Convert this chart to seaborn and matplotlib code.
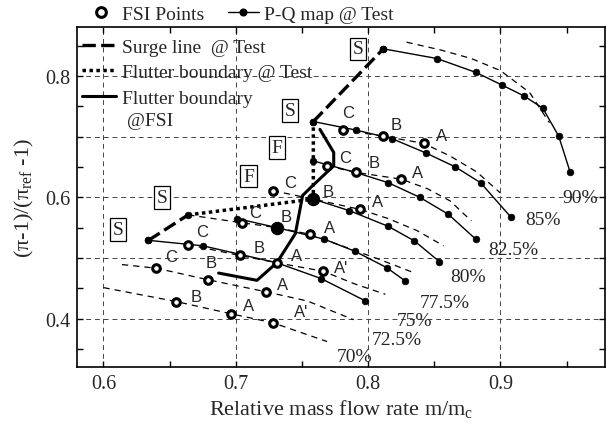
import matplotlib
matplotlib.use('Agg')
import matplotlib.pyplot as plt
import seaborn as sns
from matplotlib.lines import Line2D
from matplotlib.ticker import MultipleLocator, FuncFormatter

# ---------------- data ----------------
# P-Q map @ Test: solid speed lines with filled dots
pq90_m = [0.8115, 0.852, 0.8815, 0.9014, 0.918, 0.932, 0.944, 0.9526]
pq90_p = [0.845, 0.829, 0.806, 0.785, 0.767, 0.747, 0.701, 0.642]
pq85_m = [0.7586, 0.7906, 0.8178, 0.8438, 0.866, 0.885, 0.908]
pq85_p = [0.725, 0.711, 0.697, 0.673, 0.650, 0.624, 0.567]
pq825_m = [0.7586, 0.7906, 0.8153, 0.839, 0.8606, 0.8813]
pq825_p = [0.660, 0.641, 0.624, 0.600, 0.572, 0.531]
pq80_m = [0.7586, 0.7858, 0.8153, 0.835, 0.8538]
pq80_p = [0.597, 0.578, 0.552, 0.528, 0.494]
pq775_m = [0.7007, 0.731, 0.7667, 0.790, 0.814, 0.828]
pq775_p = [0.565, 0.550, 0.531, 0.511, 0.484, 0.462]
pq75_m = [0.634, 0.675, 0.731, 0.7644, 0.798]
pq75_p = [0.529, 0.520, 0.492, 0.466, 0.429]

# FSI speed lines (thin dashed)
fsi90_m = [0.829, 0.855, 0.878, 0.900, 0.922, 0.937]
fsi90_p = [0.856, 0.843, 0.829, 0.809, 0.773, 0.723]
fsi85_m = [0.781, 0.811, 0.842, 0.862, 0.882, 0.900]
fsi85_p = [0.711, 0.701, 0.689, 0.668, 0.642, 0.607]
fsi825_m = [0.769, 0.791, 0.825, 0.845, 0.862, 0.878]
fsi825_p = [0.652, 0.641, 0.630, 0.614, 0.594, 0.561]
fsi80_m = [0.728, 0.7586, 0.794, 0.815, 0.837, 0.857]
fsi80_p = [0.611, 0.597, 0.580, 0.565, 0.545, 0.520]
fsi775_m = [0.664, 0.7045, 0.731, 0.756, 0.780, 0.808, 0.834]
fsi775_p = [0.571, 0.558, 0.550, 0.539, 0.520, 0.498, 0.476]
fsi75_m = [0.6636, 0.703, 0.731, 0.766, 0.790, 0.813]
fsi75_p = [0.522, 0.504, 0.492, 0.478, 0.457, 0.440]
fsi725_m = [0.614, 0.640, 0.679, 0.723, 0.754, 0.789]
fsi725_p = [0.489, 0.483, 0.464, 0.444, 0.429, 0.398]
fsi70_m = [0.600, 0.655, 0.696, 0.728, 0.769]
fsi70_p = [0.451, 0.428, 0.408, 0.393, 0.362]

# Surge line @ Test (two segments) and flutter boundaries
surge1_m = [0.634, 0.664]
surge1_p = [0.529, 0.571]
surge2_m = [0.7586, 0.8115]
surge2_p = [0.725, 0.845]
flut_test_m = [0.664, 0.7586, 0.7586]
flut_test_p = [0.571, 0.597, 0.725]
flut_fsi_m = [0.7636, 0.774, 0.774, 0.757, 0.7505, 0.745, 0.731, 0.716, 0.687]
flut_fsi_p = [0.712, 0.674, 0.652, 0.617, 0.603, 0.540, 0.492, 0.463, 0.475]

# FSI points (open circles)
fsipt_m = [0.781, 0.811, 0.842,
           0.769, 0.791, 0.825,
           0.728, 0.794,
           0.7045, 0.756,
           0.6636, 0.703, 0.731, 0.766,
           0.640, 0.679, 0.723,
           0.655, 0.696, 0.728]
fsipt_p = [0.711, 0.701, 0.689,
           0.652, 0.641, 0.630,
           0.611, 0.580,
           0.558, 0.539,
           0.522, 0.504, 0.492, 0.478,
           0.483, 0.464, 0.444,
           0.428, 0.408, 0.393]
fsipt_lab = ['C', 'B', 'A',
             'C', 'B', 'A',
             'C', 'A',
             'C', 'A',
             'C', 'B', 'A', "A'",
             'C', 'B', 'A',
             'B', 'A', "A'"]
# label offsets in pixels (style)
fsipt_off = [(5, 18), (14, 12), (18, 8),
             (18, 8), (18, 10), (16, 7),
             (17, 8), (17, 8),
             (13, 10), (20, 7),
             (14, 13), (19, 8), (20, 7), (18, 4),
             (15, 12), (3, 17), (16, 7),
             (20, 5), (18, 8), (28, 11)]
# FSI points drawn as large filled circles
fsibig_m = [0.7586, 0.731]
fsibig_p = [0.597, 0.550]
fsibig_lab = ['B', 'B']
fsibig_off = [(15, 8), (9, 11)]

# speed labels
speed_lab = ['90%', '85%', '82.5%', '80%', '77.5%', '75%', '72.5%', '70%']
speed_lab_m = [0.947, 0.919, 0.8905, 0.862, 0.839, 0.8216, 0.8027, 0.776]
speed_lab_p = [0.600, 0.564, 0.514, 0.470, 0.426, 0.396, 0.365, 0.338]

# boxed markers S / F
box_lab = ['S', 'S', 'F', 'F', 'S', 'S']
box_m = [0.7926, 0.741, 0.731, 0.7095, 0.644, 0.611]
box_p = [0.845, 0.743, 0.682, 0.635, 0.600, 0.547]

# ---------------- style ----------------
sns.set_style('ticks')
plt.rcParams['font.family'] = ['Liberation Serif', 'DejaVu Serif']
plt.rcParams['mathtext.fontset'] = 'custom'
plt.rcParams['mathtext.rm'] = 'Liberation Serif'
plt.rcParams['mathtext.it'] = 'Liberation Serif:italic'

fig = plt.figure(figsize=(6.06, 4.35), dpi=100)
ax = fig.add_axes([77/606, 1-368/435, (605-77)/606, (368-28)/435])

K = 'black'
dash_thin = (0, (5, 4))

# FSI dashed speed lines
for m, p in [(fsi90_m, fsi90_p), (fsi85_m, fsi85_p), (fsi825_m, fsi825_p),
             (fsi80_m, fsi80_p), (fsi775_m, fsi775_p), (fsi75_m, fsi75_p),
             (fsi725_m, fsi725_p), (fsi70_m, fsi70_p)]:
    sns.lineplot(x=m, y=p, ax=ax, sort=False, estimator=None, color=K,
                 lw=0.9, linestyle=dash_thin, zorder=3)

# Test speed lines
for m, p in [(pq90_m, pq90_p), (pq85_m, pq85_p), (pq825_m, pq825_p),
             (pq80_m, pq80_p), (pq775_m, pq775_p), (pq75_m, pq75_p)]:
    sns.lineplot(x=m, y=p, ax=ax, sort=False, estimator=None, color=K,
                 lw=1.0, marker='o', markersize=4.8, mfc=K, mec=K, mew=0.5,
                 zorder=4)

# Surge line
for m, p in [(surge1_m, surge1_p), (surge2_m, surge2_p)]:
    sns.lineplot(x=m, y=p, ax=ax, sort=False, estimator=None, color=K,
                 lw=2.4, linestyle=(0, (4, 1.6)), marker='o', markersize=4.8,
                 mfc=K, mec=K, mew=0.5, zorder=5)
# Flutter boundary @ Test
sns.lineplot(x=flut_test_m, y=flut_test_p, ax=ax, sort=False, estimator=None,
             color=K, lw=2.5, linestyle=(0, (1, 1)), zorder=5)
# Flutter boundary @ FSI
sns.lineplot(x=flut_fsi_m, y=flut_fsi_p, ax=ax, sort=False, estimator=None,
             color=K, lw=2.2, zorder=5)

# FSI points
sns.scatterplot(x=fsipt_m, y=fsipt_p, ax=ax, s=30, marker='o', color='white',
                edgecolor=K, linewidth=2.2, zorder=6)
sns.scatterplot(x=fsibig_m, y=fsibig_p, ax=ax, s=75, marker='o', color=K,
                edgecolor=K, linewidth=1.0, zorder=6)

for m, p, lab, off in zip(fsipt_m + fsibig_m, fsipt_p + fsibig_p,
                          fsipt_lab + fsibig_lab, fsipt_off + fsibig_off):
    ax.annotate(lab, (m, p), xytext=off, textcoords='offset pixels',
                ha='center', va='center', fontsize=12,
                family=['Liberation Sans', 'DejaVu Sans'], zorder=7)

for lab, m, p in zip(speed_lab, speed_lab_m, speed_lab_p):
    ax.text(m, p, lab, ha='left', va='center', fontsize=14, zorder=7)

for lab, m, p in zip(box_lab, box_m, box_p):
    ax.text(m, p, lab, ha='center', va='center', fontsize=14, zorder=7,
            bbox=dict(boxstyle='square,pad=0.14', fc='white', ec=K, lw=0.9))

# axes
ax.set_xlim(0.58, 0.979)
ax.set_ylim(0.32, 0.881)
ax.xaxis.set_major_locator(MultipleLocator(0.1))
ax.xaxis.set_minor_locator(MultipleLocator(0.05))
ax.yaxis.set_major_locator(MultipleLocator(0.1))
ax.yaxis.set_minor_locator(MultipleLocator(0.05))
ax.xaxis.set_major_formatter(FuncFormatter(lambda v, _: f'{v:.1f}'))
ax.yaxis.set_major_formatter(FuncFormatter(
    lambda v, _: f'{v:.1f}' if round(v * 10) % 2 == 0 else ''))
ax.tick_params(which='both', direction='in', top=True, right=True,
               length=4, width=1.0, color=K, labelsize=14.5, pad=5)
ax.grid(True, which='major', linestyle=(0, (5, 4)), lw=0.7, color='#444444')
for s in ax.spines.values():
    s.set_color(K)
    s.set_linewidth(1.2)

ax.set_xlabel('Relative mass flow rate m/m$_{\\rm c}$', fontsize=16, labelpad=3)
ax.set_ylabel('(π-1)/(π$_{\\rm ref}$ -1)', fontsize=16, labelpad=6)

# legends
top_handles = [Line2D([], [], ls='none', marker='o', ms=7, mfc='white',
                      mec=K, mew=2.2),
               Line2D([], [], color=K, lw=1.0, marker='o', ms=4.8, mfc=K, mec=K)]
fig.legend(top_handles, ['FSI Points', 'P-Q map @ Test'], loc='center left',
           bbox_to_anchor=(85/606, 1-15/435), ncol=2, frameon=False,
           fontsize=14, handlelength=1.6, handletextpad=0.3,
           columnspacing=1.2, borderpad=0, borderaxespad=0)

in_handles = [Line2D([], [], color=K, lw=2.4, ls=(0, (4, 1.6))),
              Line2D([], [], color=K, lw=2.5, ls=(0, (1, 1))),
              Line2D([], [], color=K, lw=2.2)]
fig.legend(in_handles, ['Surge line  @ Test', 'Flutter boundary @ Test',
                        'Flutter boundary'],
           loc='upper left', bbox_to_anchor=(82/606, 1-39/435), frameon=False,
           fontsize=14, handlelength=1.75, handletextpad=0.3,
           labelspacing=0.41, borderpad=0, borderaxespad=0)
fig.text(127/606, 1-121/435, '@FSI', ha='left', va='center', fontsize=14)

fig.savefig('out.png', dpi=100)
